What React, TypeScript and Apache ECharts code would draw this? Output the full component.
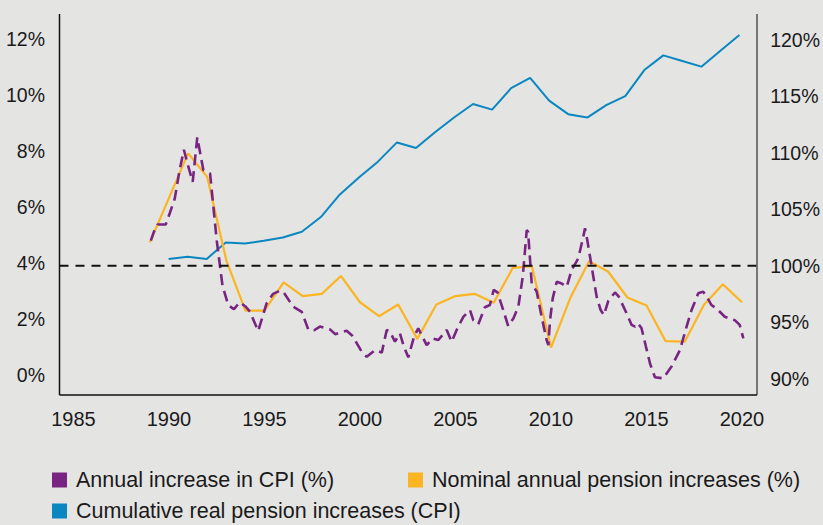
import React, { useEffect, useRef } from "react";
import * as echarts from "echarts";

// ---- Data ----
const nominalYears = [
  1989, 1990, 1991, 1992, 1993, 1994, 1995, 1996, 1997, 1998, 1999, 2000, 2001, 2002, 2003, 2004,
  2005, 2006, 2007, 2008, 2009, 2010, 2011, 2012, 2013, 2014, 2015, 2016, 2017, 2018, 2019, 2020,
];
const nominalValues = [
  4.74, 6.33, 7.92, 7.08, 4.1, 2.3, 2.3, 3.31, 2.82, 2.9, 3.54, 2.6, 2.1, 2.52, 1.29, 2.52,
  2.82, 2.9, 2.58, 3.83, 3.89, 0.98, 2.74, 4.07, 3.69, 2.77, 2.48, 1.21, 1.19, 2.5, 3.24, 2.6,
];

const cumulativeYears = [
  1990, 1991, 1992, 1993, 1994, 1995, 1996, 1997, 1998, 1999, 2000, 2001, 2002, 2003, 2004, 2005,
  2006, 2007, 2008, 2009, 2010, 2011, 2012, 2013, 2014, 2015, 2016, 2017, 2018, 2019, 2020,
];
const cumulativeValues = [
  100.6, 100.8, 100.6, 102.05, 101.96, 102.2, 102.5, 103.0, 104.3, 106.3, 107.8, 109.2, 110.9, 110.4,
  111.8, 113.1, 114.3, 113.8, 115.7, 116.6, 114.6, 113.4, 113.1, 114.2, 115.0, 117.3, 118.6, 118.1,
  117.6, 119.0, 120.4,
];

// CPI is sub-annual: [year (fractional), annual increase %]
const cpiPoints: [number, number][] = [
  [1989.05, 4.8], [1989.2, 5.1], [1989.4, 5.38], [1989.83, 5.38], [1990.05, 5.8], [1990.3, 6.3],
  [1990.55, 7.3], [1990.78, 8.05], [1990.95, 7.6], [1991.24, 6.9], [1991.48, 8.49], [1991.8, 7.32],
  [1992.15, 7.2], [1992.5, 4.8], [1992.8, 3.2], [1993.1, 2.5], [1993.4, 2.35], [1993.7, 2.6],
  [1994.0, 2.45], [1994.24, 2.26], [1994.67, 1.57], [1995.11, 2.56], [1995.45, 2.9], [1995.8, 3.01],
  [1995.98, 2.98], [1996.5, 2.44], [1996.95, 2.26], [1997.3, 1.61], [1997.6, 1.6], [1997.9, 1.73],
  [1998.43, 1.63], [1998.7, 1.46], [1999.3, 1.58], [1999.6, 1.4], [2000.09, 0.83], [2000.35, 0.65],
  [2000.79, 0.89], [2001.14, 0.8], [2001.4, 1.61], [2001.57, 1.55], [2001.83, 1.19], [2002.09, 1.49],
  [2002.3, 1.01], [2002.53, 0.63], [2002.83, 1.37], [2003.05, 1.67], [2003.49, 1.07], [2003.8, 1.31],
  [2004.1, 1.25], [2004.54, 1.61], [2004.8, 1.19], [2005.06, 1.61], [2005.41, 2.08], [2005.76, 2.32],
  [2005.93, 1.96], [2006.19, 1.81], [2006.54, 2.42], [2006.8, 2.5], [2007.0, 3.04], [2007.2, 2.95],
  [2007.5, 2.32], [2007.76, 1.75], [2008.03, 2.02], [2008.29, 2.44], [2008.52, 3.51], [2008.73, 5.18],
  [2008.8, 5.12], [2008.99, 3.27], [2009.25, 2.98], [2009.51, 2.08], [2009.77, 1.25], [2009.86, 1.07],
  [2009.95, 1.96], [2010.09, 2.74], [2010.3, 3.33], [2010.56, 3.27], [2010.82, 3.15], [2011.08, 3.75],
  [2011.43, 4.17], [2011.69, 4.94], [2011.78, 5.24], [2011.9, 4.82], [2012.13, 3.87], [2012.39, 2.8],
  [2012.6, 2.32], [2012.77, 2.14], [2013.0, 2.65], [2013.35, 2.95], [2013.55, 2.8], [2013.96, 2.2],
  [2014.22, 1.79], [2014.4, 1.73], [2014.55, 1.85], [2014.74, 1.67], [2015.18, 0.42], [2015.44, -0.08],
  [2015.88, -0.12], [2016.31, 0.3], [2016.75, 0.89], [2017.1, 1.73], [2017.36, 2.32], [2017.71, 2.92],
  [2017.97, 2.98], [2018.2, 2.74], [2018.4, 2.5], [2018.66, 2.38], [2019.1, 2.08], [2019.62, 1.96],
  [2019.88, 1.79], [2020.07, 1.31],
];

const seriesNames = [
  "Annual increase in CPI (%)",
  "Nominal annual pension increases (%)",
  "Cumulative real pension increases (CPI)",
];
const referenceLevel = 100; // cumulative = 100%

const PURPLE = "#782582";
const YELLOW = "#fbb521";
const BLUE = "#0a87c0";
const BG = "#e4e4e3";
const FONT = "'Liberation Sans', Arial, Helvetica, sans-serif";
const TEXT = "#1a1a1a";

export default function App() {
  const ref = useRef<HTMLDivElement>(null);

  useEffect(() => {
    if (!ref.current) return;
    const chart = echarts.init(ref.current, undefined, { renderer: "svg" });

    const legendText = { color: TEXT, fontSize: 21.5, fontFamily: FONT, padding: [0, 0, 0, 4] };
    const legendCommon = {
      icon: "rect",
      itemWidth: 15,
      itemHeight: 15,
      itemStyle: { borderWidth: 0 },
      textStyle: legendText,
      selectedMode: false,
      orient: "horizontal",
      padding: 0,
    };

    chart.setOption({
      animation: false,
      backgroundColor: BG,
      textStyle: { fontFamily: FONT },
      grid: [
        { left: 73.5, right: 81, top: 39.2, bottom: 150, containLabel: false },
        { left: 73.5, right: 81, top: 39.5, bottom: 146.2, containLabel: false },
      ],
      xAxis: [
        {
          type: "value",
          gridIndex: 0,
          min: 1985,
          max: 2020,
          interval: 5,
          axisLine: { show: false },
          axisTick: { show: false },
          splitLine: { show: false },
          axisLabel: {
            color: TEXT,
            fontSize: 20,
            fontFamily: FONT,
            margin: 34,
            formatter: (v: number) => String(v),
          },
        },
        {
          type: "value",
          gridIndex: 1,
          min: 1985,
          max: 2020,
          interval: 5,
          show: false,
        },
      ],
      yAxis: [
        {
          type: "value",
          gridIndex: 0,
          position: "left",
          min: 0,
          max: 12,
          interval: 2,
          axisLine: { show: false },
          axisTick: { show: false },
          splitLine: { show: false },
          axisLabel: {
            color: TEXT,
            fontSize: 19.5,
            fontFamily: FONT,
            margin: 28.5,
            formatter: (v: number) => `${v}%`,
          },
        },
        {
          type: "value",
          gridIndex: 1,
          position: "right",
          min: 90,
          max: 120,
          interval: 5,
          axisLine: { show: false },
          axisTick: { show: false },
          splitLine: { show: false },
          axisLabel: {
            color: TEXT,
            fontSize: 19.5,
            fontFamily: FONT,
            margin: 30.7,
            formatter: (v: number) => `${v}%`,
          },
        },
      ],
      legend: [
        { ...legendCommon, data: [seriesNames[0]], left: 52, top: 469 },
        { ...legendCommon, data: [seriesNames[1]], left: 408, top: 469 },
        { ...legendCommon, data: [seriesNames[2]], left: 52, top: 500 },
      ],
      series: [
        {
          name: seriesNames[2],
          type: "line",
          xAxisIndex: 1,
          yAxisIndex: 1,
          data: cumulativeYears.map((y, i) => [y, cumulativeValues[i]]),
          showSymbol: false,
          clip: false,
          color: BLUE,
          itemStyle: { color: BLUE },
          lineStyle: { color: BLUE, width: 2 },
          z: 2,
        },
        {
          name: seriesNames[1],
          type: "line",
          xAxisIndex: 0,
          yAxisIndex: 0,
          data: nominalYears.map((y, i) => [y, nominalValues[i]]),
          showSymbol: false,
          clip: false,
          color: YELLOW,
          itemStyle: { color: YELLOW },
          lineStyle: { color: YELLOW, width: 2.2 },
          z: 3,
        },
        {
          name: seriesNames[0],
          type: "line",
          xAxisIndex: 0,
          yAxisIndex: 0,
          data: cpiPoints,
          showSymbol: false,
          clip: false,
          color: PURPLE,
          itemStyle: { color: PURPLE },
          lineStyle: { color: PURPLE, width: 2.6, type: [11, 6] },
          z: 4,
        },
      ],
    });

    const y100 = chart.convertToPixel({ yAxisIndex: 1 }, referenceLevel) as number;
    const boxLeft = 59.5;
    const boxRight = 757;
    const boxTop = 14;
    const boxBottom = 395;

    chart.setOption({
      graphic: [
        {
          type: "line",
          shape: { x1: boxLeft, y1: y100, x2: boxRight, y2: y100 },
          style: { stroke: "#111", lineWidth: 2, lineDash: [9, 7] },
          z: 10,
        },
        {
          type: "line",
          shape: { x1: boxLeft, y1: boxTop, x2: boxLeft, y2: boxBottom },
          style: { stroke: "#111", lineWidth: 1.5 },
          z: 10,
        },
        {
          type: "line",
          shape: { x1: boxRight, y1: boxTop, x2: boxRight, y2: boxBottom },
          style: { stroke: "#555", lineWidth: 1.5 },
          z: 10,
        },
        {
          type: "line",
          shape: { x1: boxLeft, y1: boxBottom, x2: boxRight, y2: boxBottom },
          style: { stroke: "#111", lineWidth: 1.5 },
          z: 10,
        },
      ],
    });

    return () => chart.dispose();
  }, []);

  return (
    <div
      ref={ref}
      style={{ position: "fixed", left: 0, top: 0, width: 823, height: 525, background: BG }}
    />
  );
}
